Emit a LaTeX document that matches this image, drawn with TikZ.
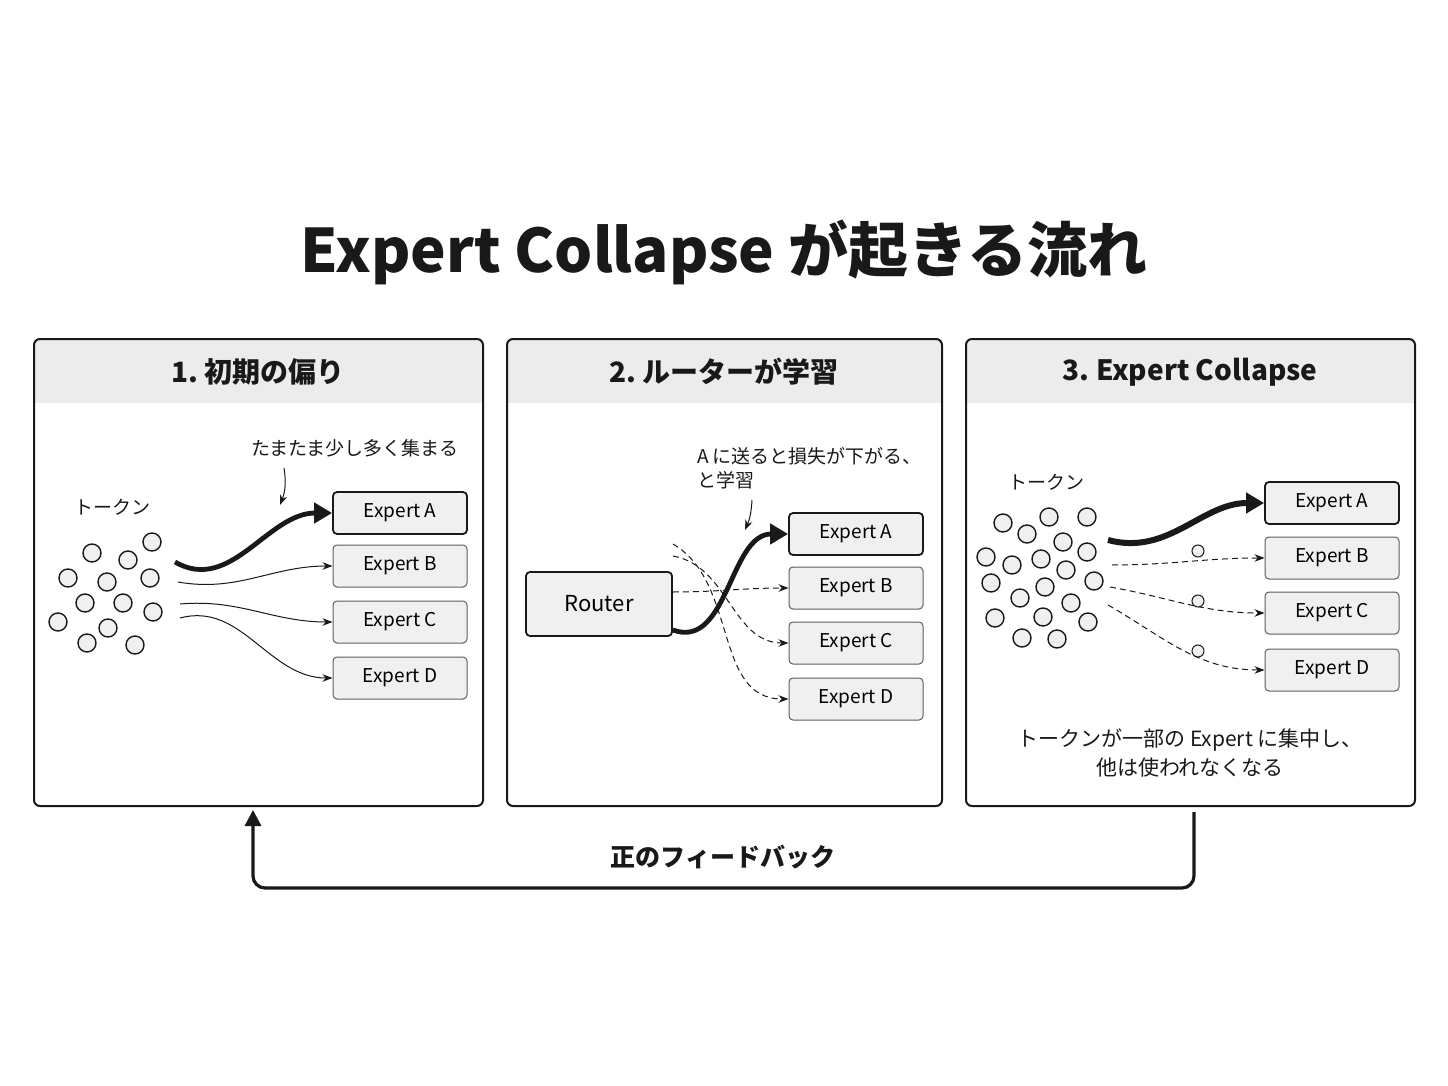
\documentclass[tikz,border=0pt]{standalone}
\usepackage{fontspec}
\setmainfont{Noto Sans CJK JP}
\usetikzlibrary{positioning,arrows.meta,calc}
\definecolor{panelGray}{RGB}{236,236,236}
\definecolor{boxGray}{RGB}{240,240,240}
\definecolor{inkDark}{RGB}{25,25,25}
\tikzset{
    panel/.style={draw=inkDark, line width=1pt, rounded corners=3pt},
    expert/.style={draw=inkDark!70, fill=boxGray, rounded corners=2pt, line width=0.5pt,
        minimum width=67pt, minimum height=21pt, inner sep=0pt, font=\fontsize{9.5}{11}\selectfont},
    winner/.style={expert, draw=inkDark, line width=0.9pt},
    token/.style={draw=inkDark, line width=0.7pt, fill=gray!12},
    flow/.style={-{Stealth[length=5pt]}, line width=0.5pt, inkDark},
    bigflow/.style={-{Triangle[length=9pt,width=10pt]}, line width=2.4pt, inkDark},
    weakflow/.style={flow, densely dashed},
    note/.style={font=\fontsize{9.5}{12}\selectfont, inkDark},
    head/.style={font=\bfseries\fontsize{14}{16}\selectfont, inkDark}
}
\begin{document}
\begin{tikzpicture}[x=0.5pt, y=-0.5pt]
    \useasboundingbox (0,0) rectangle (1448,1086);
    \fill[white] (0,0) rectangle (1448,1086);

    % title
    \node[font=\bfseries\fontsize{30}{34}\selectfont, inkDark] (title) at (724,252) {Expert Collapse が起きる流れ};

    % panels
    \foreach \x/\w/\name in {34/483/p1, 507/942/p2, 966/1415/p3} {
        \fill[panelGray, rounded corners=3pt] (\x,339) rectangle (\w,403);
        \fill[panelGray] (\x,380) rectangle (\w,403);
        \draw[panel] (\x,339) rectangle (\w,806);
    }
    \node[head] (h1) at (258,372) {1.\ 初期の偏り};
    \node[head] (h2) at (724,372) {2.\ ルーターが学習};
    \node[head] (h3) at (1190,372) {3.\ Expert Collapse};

    % panel 1
    \node[note] (tok1) at (113,507) {トークン};
    \foreach \cx/\cy in {152/542, 92/553, 128/560, 68/578, 107/582, 150/578, 85/603,
        123/603, 153/612, 58/622, 108/628, 87/643, 135/645}
        \filldraw[token] (\cx,\cy) circle (9);
    \node[winner] (a1) at (400,513) {Expert A};
    \node[expert] (b1) at (400,566) {Expert B};
    \node[expert] (c1) at (400,622) {Expert C};
    \node[expert] (d1) at (400,678) {Expert D};
    \coordinate (s1a) at (175,562);
    \coordinate (s1b) at (178,582);
    \coordinate (s1c) at (180,604);
    \coordinate (s1d) at (180,618);
    \draw[bigflow] (s1a) to[out=-30, in=180] (a1.west);
    \draw[flow] (s1b) to[out=-10, in=180] (b1.west);
    \draw[flow] (s1c) to[out=5, in=180] (c1.west);
    \draw[flow] (s1d) to[out=15, in=180] (d1.west);
    \node[note] (n1) at (355,448) {たまたま少し多く集まる};
    \draw[flow] (n1.south west) ++(40,4) coordinate (n1a) to[bend left=15] (280,505);

    % panel 2
    \node[expert, font=\fontsize{11}{13}\selectfont, minimum width=73pt, minimum height=32pt, draw=inkDark, line width=0.9pt] (router) at (599,604) {Router};
    \node[winner] (a2) at (856,534) {Expert A};
    \node[expert] (b2) at (856,588) {Expert B};
    \node[expert] (c2) at (856,643) {Expert C};
    \node[expert] (d2) at (856,699) {Expert D};
    \draw[bigflow] ([yshift=-13]router.east) to[out=-20, in=180] (a2.west);
    \draw[weakflow] ([yshift=6]router.east) to[out=0, in=180] (b2.west);
    \draw[weakflow] ([yshift=24]router.east) to[out=-10, in=180] (c2.west);
    \draw[weakflow] ([yshift=30]router.east) to[out=-30, in=180] (d2.west);
    \node[note, align=left, anchor=north west] (n2) at (690,440) {A に送ると損失が下がる、\\と学習};
    \coordinate (n2a) at (752,500);
    \draw[flow] (n2a) to[bend left=10] (745,530);

    % panel 3
    \node[note] (tok3) at (1046,482) {トークン};
    \foreach \cx/\cy in {1003/523, 1049/517, 1087/517, 1027/534, 1063/542, 986/557, 1012/565,
        1041/559, 1087/552, 1066/570, 991/583, 1045/587, 1094/581, 1020/598, 1071/603,
        995/618, 1043/617, 1088/622, 1022/638, 1057/639}
        \filldraw[token] (\cx,\cy) circle (9);
    \node[winner] (a3) at (1332,503) {Expert A};
    \node[expert] (b3) at (1332,558) {Expert B};
    \node[expert] (c3) at (1332,613) {Expert C};
    \node[expert] (d3) at (1332,670) {Expert D};
    \coordinate (s3a) at (1108,540);
    \coordinate (s3b) at (1112,565);
    \coordinate (s3c) at (1110,587);
    \coordinate (s3d) at (1108,605);
    \draw[bigflow, line width=3pt] (s3a) to[out=-15, in=180] (a3.west);
    \draw[weakflow] (s3b) to[out=0, in=180] (b3.west);
    \draw[weakflow] (s3c) to[out=-10, in=180] (c3.west);
    \draw[weakflow] (s3d) to[out=-30, in=180] (d3.west);
    \foreach \cy in {551, 601, 651}
        \filldraw[token, line width=0.5pt] (1198,\cy) circle (6);
    \node[note, align=center, font=\fontsize{10.5}{14.5}\selectfont] (n3) at (1190,753) {トークンが一部の Expert に集中し、\\他は使われなくなる};

    % feedback loop
    \coordinate (fb3) at (1194,812);
    \coordinate (fb1) at (253,810);
    \draw[-{Triangle[length=8pt,width=8pt]}, line width=1.6pt, inkDark, rounded corners=6pt]
        (fb3) |- (723,888) -| (fb1);
    \node[font=\bfseries\fontsize{12.5}{14}\selectfont, inkDark] (fb) at (723,857) {正のフィードバック};
\end{tikzpicture}
\end{document}
